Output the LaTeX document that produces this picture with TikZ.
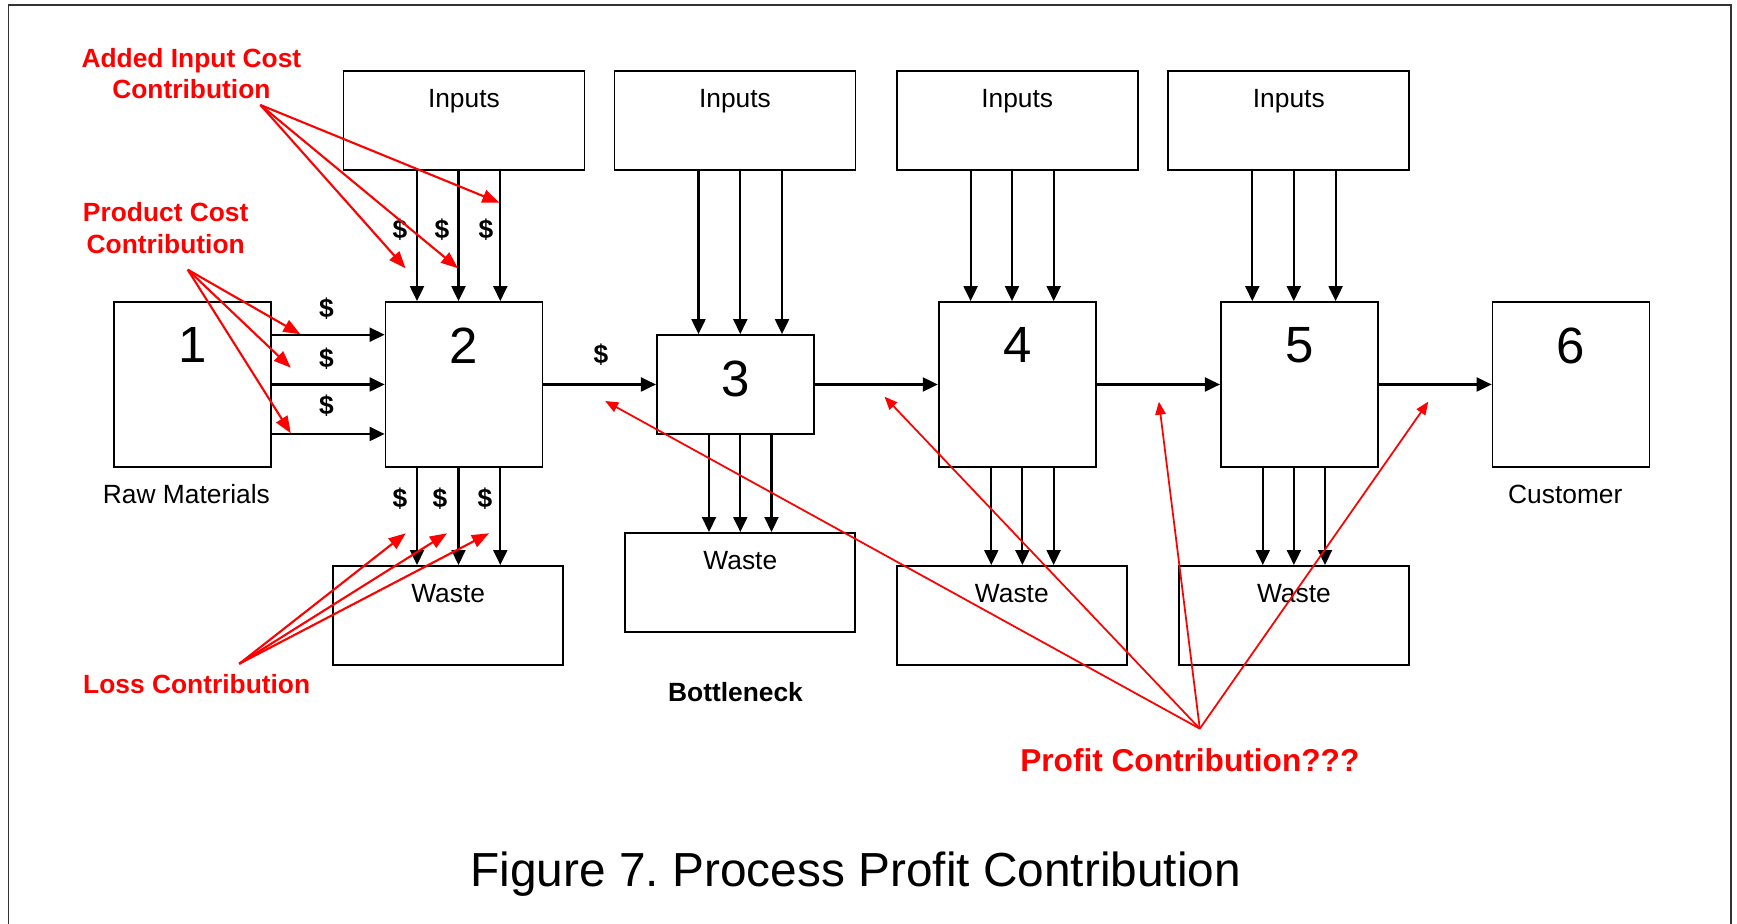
\documentclass[tikz,border=0pt]{standalone}
\usepackage{fontspec}
\setmainfont{Liberation Sans}
\usetikzlibrary{arrows.meta}
\frenchspacing

\definecolor{cRed}{HTML}{FF0000}
\definecolor{cFrame}{HTML}{333333}

% three parallel feeds: supply box -> stage, stage -> waste box
\providecommand{\feedin}[5]{%
  \draw[flow] ([xshift=#3]#2.north |- #1.south) -- ([xshift=#3]#2.north);
  \draw[flow] ([xshift=#4]#2.north |- #1.south) -- ([xshift=#4]#2.north);
  \draw[flow] ([xshift=#5]#2.north |- #1.south) -- ([xshift=#5]#2.north);
}
\providecommand{\feedout}[5]{%
  \draw[flow] ([xshift=#3]#1.south) -- ([xshift=#3]#1.south |- #2.north);
  \draw[flow] ([xshift=#4]#1.south) -- ([xshift=#4]#1.south |- #2.north);
  \draw[flow] ([xshift=#5]#1.south) -- ([xshift=#5]#1.south |- #2.north);
}

\begin{document}
\begin{tikzpicture}[
  font=\fontsize{7.5}{9.1}\selectfont,
  flow/.style={-{Triangle[length=1.5mm, width=1.4mm]}, line width=0.6pt},
  note/.style={-{Triangle[length=1.7mm, width=1.3mm]}, cRed, line width=0.6pt},
  hint/.style={-{Triangle[length=1.3mm, width=1.05mm]}, cRed, line width=0.5pt},
  stage/.style={draw, line width=0.5pt, inner sep=0pt,
    minimum width=1.57cm, minimum height=1.65cm,
    label={[font=\fontsize{14.5}{14.5}\selectfont, inner sep=0pt,
            anchor=north, yshift=-2.6mm]north:#1}},
  supply/.style={draw, line width=0.5pt, inner sep=0pt,
    minimum width=2.41cm, minimum height=0.99cm,
    label={[inner sep=0pt, anchor=north, yshift=-1.9mm]north:#1}},
  dump/.style={supply=#1, minimum width=2.30cm},
  tag/.style={inner sep=0pt},
  cost/.style={inner sep=0pt, font=\fontsize{7.5}{9.1}\selectfont\bfseries},
  callout/.style={inner sep=0pt, align=center, text=cRed,
    font=\fontsize{7.5}{9.1}\selectfont\bfseries},
]

  \useasboundingbox (0,0) rectangle (17.37,9.24);
  \draw[cFrame, line width=0.4pt]
    (0.084,-0.2) -- (0.084,9.19) -- (17.31,9.19) -- (17.31,-0.2);

  % --------------------------------------------------------------------------
  % Process stages, supplies and waste
  % --------------------------------------------------------------------------
  \node[stage=1] (p1) at (1.925,5.395) {};
  \node[stage=2] (p2) at (4.640,5.395) {};
  \node[stage=3, minimum height=0.99cm] (p3) at (7.353,5.395) {};
  \node[stage=4] (p4) at (10.172,5.395) {};
  \node[stage=5] (p5) at (12.993,5.395) {};
  \node[stage=6] (p6) at (15.710,5.395) {};

  \node[supply=Inputs] (in2) at (4.639,8.035) {};
  \node[supply=Inputs] (in3) at (7.350,8.035) {};
  \node[supply=Inputs] (in4) at (10.172,8.035) {};
  \node[supply=Inputs] (in5) at (12.888,8.035) {};

  \node[dump=Waste] (w2) at (4.482,3.086) {};
  \node[dump=Waste] (w3) at (7.403,3.416) {};
  \node[dump=Waste] (w4) at (10.118,3.086) {};
  \node[dump=Waste] (w5) at (12.939,3.086) {};

  \node[tag] (raw)  at (1.864,4.300) {Raw Materials};
  \node[tag] (cust) at (15.653,4.300) {Customer};
  \node[cost] (neck) at (7.355,2.323) {Bottleneck};

  % --------------------------------------------------------------------------
  % Material flow
  % --------------------------------------------------------------------------
  \draw[flow] ([yshift=4.98mm]p1.east) -- ([yshift=4.98mm]p1.east -| p2.west);
  \draw[flow] (p1) -- (p2);
  \draw[flow] ([yshift=-4.95mm]p1.east) -- ([yshift=-4.95mm]p1.east -| p2.west);

  \draw[flow] (p2) -- (p3);
  \draw[flow] (p3) -- (p4);
  \draw[flow] (p4) -- (p5);
  \draw[flow] (p5) -- (p6);

  \feedin{in2}{p2}{-4.70mm}{-0.55mm}{3.63mm}
  \feedin{in3}{p3}{-3.68mm}{0.50mm}{4.67mm}
  \feedin{in4}{p4}{-4.66mm}{-0.52mm}{3.65mm}
  \feedin{in5}{p5}{-4.70mm}{-0.55mm}{3.63mm}

  \feedout{p2}{w2}{-4.70mm}{-0.55mm}{3.63mm}
  \feedout{p3}{w3}{-2.63mm}{0.50mm}{3.62mm}
  \feedout{p4}{w4}{-2.59mm}{0.52mm}{3.64mm}
  \feedout{p5}{w5}{-3.65mm}{-0.54mm}{2.57mm}

  % cost markers around stage 2
  \node[cost] (c1)  at (3.264,6.150) {\$};
  \node[cost] (c2)  at (3.264,5.650) {\$};
  \node[cost] (c3)  at (3.264,5.180) {\$};
  \node[cost] (c4)  at (4.000,6.940) {\$};
  \node[cost] (c5)  at (4.420,6.940) {\$};
  \node[cost] (c6)  at (4.860,6.940) {\$};
  \node[cost] (c7)  at (4.000,4.250) {\$};
  \node[cost] (c8)  at (4.400,4.250) {\$};
  \node[cost] (c9)  at (4.849,4.250) {\$};
  \node[cost] (c10) at (6.010,5.697) {\$};

  % --------------------------------------------------------------------------
  % Red call-outs
  % --------------------------------------------------------------------------
  \node[callout] (addin) at (1.914,8.504) {Added Input Cost\\Contribution};
  \node[callout] (prodc) at (1.657,6.957) {Product Cost\\Contribution};
  \node[callout] (lossc) at (1.967,2.398) {Loss Contribution};
  \node[callout, font=\fontsize{9}{11}\selectfont\bfseries] (profc)
    at (11.898,1.640) {Profit Contribution???};

  \coordinate (a1) at (4.056,6.557);
  \coordinate (a2) at (4.580,6.557);
  \coordinate (a3) at (4.994,7.213);
  \coordinate (r1) at (3.004,5.897);
  \coordinate (r2) at (2.908,5.563);
  \coordinate (r3) at (2.908,4.907);
  \coordinate (l1) at (4.057,3.907);
  \coordinate (l2) at (4.470,3.907);
  \coordinate (l3) at (4.890,3.907);
  \coordinate (g1) at (6.052,5.230);
  \coordinate (g2) at (8.845,5.273);
  \coordinate (g3) at (11.589,5.223);
  \coordinate (g4) at (14.283,5.223);

  \draw[note] ([xshift=6.9mm, yshift=-0.5mm]addin.south) -- (a1);
  \draw[note] ([xshift=6.9mm, yshift=-0.5mm]addin.south) -- (a2);
  \draw[note] ([xshift=6.9mm, yshift=-0.5mm]addin.south) -- (a3);

  \draw[note] ([xshift=2.2mm, yshift=-1.5mm]prodc.south) -- (r1);
  \draw[note] ([xshift=2.2mm, yshift=-1.5mm]prodc.south) -- (r2);
  \draw[note] ([xshift=2.2mm, yshift=-1.5mm]prodc.south) -- (r3);

  \draw[note] ([xshift=4.25mm, yshift=1mm]lossc.north) -- (l1);
  \draw[note] ([xshift=4.25mm, yshift=1mm]lossc.north) -- (l2);
  \draw[note] ([xshift=4.25mm, yshift=1mm]lossc.north) -- (l3);

  \draw[hint] ([xshift=1mm, yshift=1.9mm]profc.north) -- (g1);
  \draw[hint] ([xshift=1mm, yshift=1.9mm]profc.north) -- (g2);
  \draw[hint] ([xshift=1mm, yshift=1.9mm]profc.north) -- (g3);
  \draw[hint] ([xshift=1mm, yshift=1.9mm]profc.north) -- (g4);

  \node[font=\fontsize{13.6}{16}\selectfont, anchor=base] (caption)
    at (8.558,0.373) {Figure 7. Process Profit Contribution};

\end{tikzpicture}
\end{document}
